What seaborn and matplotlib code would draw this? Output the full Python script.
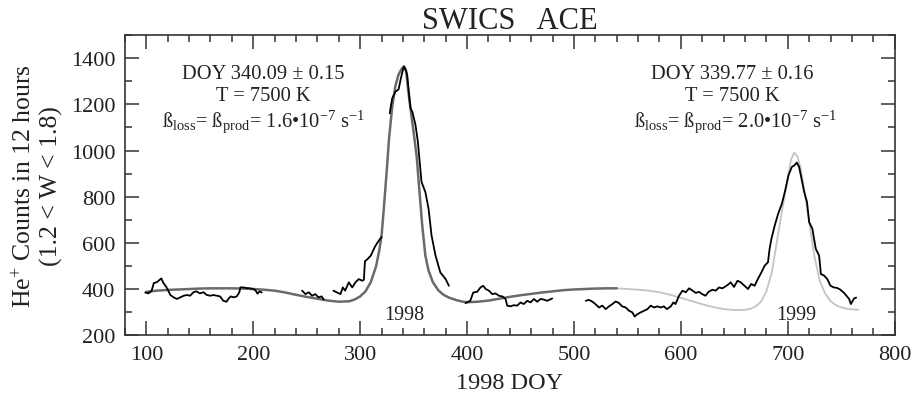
import numpy as np
import pandas as pd
import matplotlib
matplotlib.use("Agg")
import matplotlib.pyplot as plt
import seaborn as sns

# ---------------- data ----------------
seg1_doy = [99, 102, 105, 107, 110, 111.5, 114, 116, 119, 122.5, 125.5, 128.7, 131.8, 135, 138, 141,
            144, 147, 150, 153.5, 156.6, 159.7, 162.8, 166, 169, 172, 175, 177, 179, 181.5, 184.6, 187,
            188, 191, 194, 197, 200, 202, 204, 206, 208]
seg1_cnt = [385, 381, 393, 426, 430, 436, 446, 426, 407, 374, 364, 357, 364, 371, 374, 371,
            386, 390, 381, 386, 374, 371, 374, 371, 368, 349, 345, 359, 368, 364, 368, 386,
            407, 407, 404, 403, 400, 395, 380, 390, 385]
seg2_doy = [245.7, 248.8, 252, 255, 258, 261, 264, 266]
seg2_cnt = [393, 378, 386, 371, 378, 364, 368, 354]
seg3_doy = [275, 278, 281.6, 283.8, 286, 289.4, 292.6, 295.6, 298.7, 302, 303.5, 304.5, 307, 310,
            314, 317.5, 320]
seg3_cnt = [393, 386, 378, 407, 393, 429, 407, 429, 443, 436, 440, 520, 530, 545,
            585, 610, 625]
seg4_doy = [327.7, 329, 330, 333, 336, 337.8, 339.5, 341, 342.5, 344, 347, 349, 351.8, 354, 357.4,
            361, 364, 366.8, 370.5, 375, 380, 383]
seg4_cnt = [1161, 1200, 1226, 1255, 1265, 1306, 1340, 1364, 1350, 1328, 1185, 1165, 1110, 1038, 864,
            820, 748, 632, 545, 472, 443, 414]
seg5_doy = [398.6, 400, 403, 405.8, 409.5, 412.6, 415, 417.5, 420.4, 423.6, 426.7, 429.8, 433, 436,
            437.6, 440.7, 443.8, 447, 450, 453, 456.4, 459.5, 462.5, 465.6, 468.8, 472, 475, 479.7]
seg5_cnt = [339, 342, 349, 385, 388, 407, 414, 400, 393, 378, 381, 371, 368, 357,
            328, 325, 330, 328, 342, 335, 349, 342, 357, 345, 357, 354, 349, 359]
seg6_doy = [511, 514, 517, 520, 523.4, 526.5, 529.7, 532.8, 536, 539, 542, 545, 548.4, 551.5, 554.6,
            556.8, 559.3, 562.5, 565.6, 568.7, 571.8, 575, 578, 581, 584, 587, 590.6, 593, 595, 598.3,
            601.5, 604.6, 607.7, 611, 614, 617, 620, 623, 626, 629.5, 632.6, 635.7, 638.8, 642, 645,
            646.6, 649.7, 653, 656, 659.6, 662.8, 665.8, 669, 672, 675.3, 678.4, 681.5, 683, 684.7,
            687.8, 691, 694.5, 697.6, 700.7, 703.8, 706.3, 708.5, 710.6, 712.2, 715.4, 718, 720, 723,
            726.2, 729.3, 731, 734, 737, 740, 743, 746, 749, 752.7, 757.4, 759, 762, 764]
seg6_cnt = [349, 353, 346, 335, 320, 328, 313, 325, 335, 346, 340, 325, 320, 306, 299,
            281, 291, 299, 306, 313, 328, 320, 325, 320, 325, 313, 325, 342, 335, 371,
            393, 386, 403, 393, 383, 388, 378, 371, 388, 397, 393, 407, 403, 412, 422,
            429, 409, 436, 429, 414, 400, 422, 414, 443, 472, 501, 516, 574, 617,
            675, 726, 770, 827, 893, 929, 936, 948, 929, 893, 820, 777, 690, 661,
            574, 545, 465, 458, 443, 414, 407, 405, 398, 383, 357, 335, 359, 363]

model98_doy = [100, 110, 120, 130, 140, 150, 160, 170, 180, 190, 200, 210, 220, 230, 240, 250, 260,
               270, 280, 290, 295, 300, 305, 310, 315, 318, 320, 322, 325, 327, 330, 333, 336, 339,
               341, 343, 345, 348, 350, 353, 355, 358, 361, 364, 368, 373, 378, 383, 390, 395, 400,
               410, 420, 430, 440, 450, 460, 470, 480, 490, 500, 510, 520, 530, 540]
model98_cnt = [388, 393, 396, 398, 400, 402, 403, 403, 403, 402, 400, 397, 393, 385, 375, 366, 358,
               350, 345, 347, 355, 368, 390, 430, 500, 570, 630, 740, 920, 1050, 1190, 1280, 1330, 1355,
               1364, 1345, 1260, 1150, 1080, 970, 850, 680, 545, 480, 430, 395, 375, 363, 352, 346, 343,
               345, 350, 358, 366, 373, 379, 385, 390, 395, 398, 400, 402, 403, 403]
model99_doy = [540, 550, 560, 570, 580, 590, 600, 610, 620, 630, 640, 650, 660, 665, 670, 675, 680,
               685, 690, 695, 700, 703, 706, 709, 712, 715, 720, 725, 730, 735, 740, 745, 750, 755,
               760, 766]
model99_cnt = [403, 400, 397, 393, 386, 375, 362, 348, 334, 322, 313, 309, 310, 314, 325, 345, 390,
               470, 610, 750, 880, 960, 991, 975, 925, 840, 690, 540, 435, 380, 348, 330, 320, 315,
               312, 310]

x_ticks = [100, 200, 300, 400, 500, 600, 700, 800]
y_ticks = [200, 400, 600, 800, 1000, 1200, 1400]

# ---------------- build frames ----------------
segs = [(seg1_doy, seg1_cnt), (seg2_doy, seg2_cnt), (seg3_doy, seg3_cnt),
        (seg4_doy, seg4_cnt), (seg5_doy, seg5_cnt), (seg6_doy, seg6_cnt)]
obs = pd.concat([pd.DataFrame({"doy": d, "counts": c, "seg": i}) for i, (d, c) in enumerate(segs)],
                ignore_index=True)
m98 = pd.DataFrame({"doy": model98_doy, "counts": model98_cnt})
m99 = pd.DataFrame({"doy": model99_doy, "counts": model99_cnt})

# ---------------- style ----------------
sns.set_style("ticks")
serif = "Liberation Serif"
plt.rcParams["font.family"] = [serif, "DejaVu Serif"]
plt.rcParams["mathtext.fontset"] = "custom"
plt.rcParams["mathtext.rm"] = serif
plt.rcParams["mathtext.it"] = serif + ":italic"
plt.rcParams["mathtext.bf"] = serif + ":bold"

fig = plt.figure(figsize=(9.12, 4.10), dpi=100)
ax = fig.add_axes([0.137, 0.180, 0.844, 0.732])

sns.lineplot(data=m99, x="doy", y="counts", ax=ax, color="#c4c4c4", lw=1.3, sort=False)
sns.lineplot(data=m98, x="doy", y="counts", ax=ax, color="#6a6a6a", lw=1.8, sort=False)
sns.lineplot(data=obs, x="doy", y="counts", units="seg", estimator=None, ax=ax,
             color="black", lw=1.3, sort=False)

ax.set_xlim(80, 800)
ax.set_ylim(200, 1500)
ax.set_xticks(x_ticks)
ax.set_yticks(y_ticks)
ax.set_xticks(np.arange(80, 801, 20), minor=True)
ax.set_yticks(np.arange(200, 1501, 100), minor=True)
ax.tick_params(which="both", direction="in", top=True, right=True, color="#333333", width=1.1)
ax.tick_params(which="major", length=10, labelsize=16, pad=7, labelcolor="#222222")
ax.tick_params(which="minor", length=5)
for s in ax.spines.values():
    s.set_linewidth(1.2)
    s.set_color("#333333")

ax.set_xlabel("1998 DOY", fontsize=17.5, labelpad=6, color="#222222")
ax.set_ylabel("He$^{+}$ Counts in 12 hours\n(1.2 < W < 1.8)", fontsize=18.5, linespacing=1.2,
              color="#222222")
ax.yaxis.set_label_coords(-0.080, 0.5)
ax.set_title("SWICS   ACE", fontsize=22, pad=5, color="#222222")

tk = dict(ha="center", va="center", fontsize=14.8, color="#222222")
ax.text(209, 1335, "DOY 340.09 \u00b1 0.15", **tk)
ax.text(209, 1239, "T = 7500 K", **tk)
ax.text(210, 1128, "\u00df$_{\\rm loss}$= \u00df$_{\\rm prod}$= 1.6\u202210$^{-7}$ s$^{-1}$", **tk)
ax.text(648, 1335, "DOY 339.77 \u00b1 0.16", **tk)
ax.text(648, 1239, "T = 7500 K", **tk)
ax.text(651, 1128, "\u00df$_{\\rm loss}$= \u00df$_{\\rm prod}$= 2.0\u202210$^{-7}$ s$^{-1}$", **tk)
ax.text(341, 291, "1998", fontsize=14.5, ha="center", va="center", color="#222222")
ax.text(708, 291, "1999", fontsize=14.5, ha="center", va="center", color="#222222")

fig.savefig("out.png", dpi=100)
